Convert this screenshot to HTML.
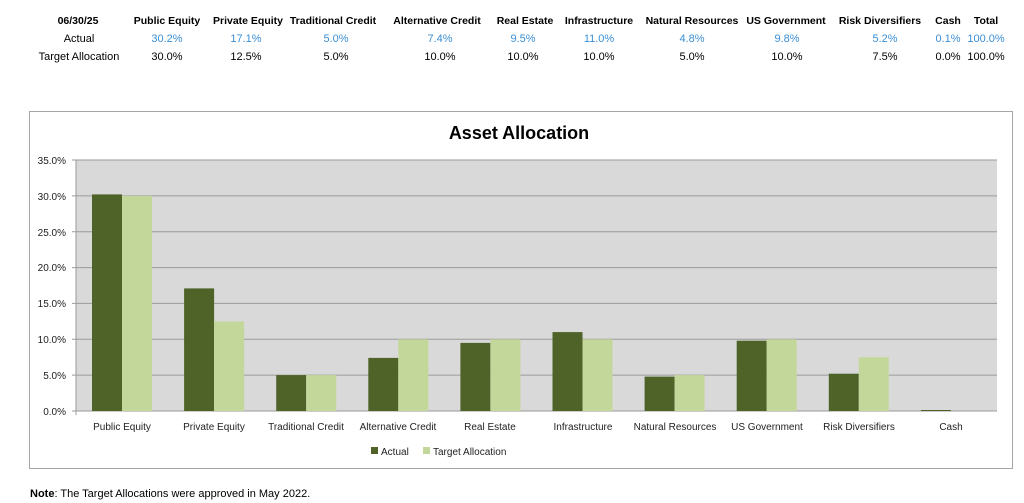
<!DOCTYPE html>
<html><head><meta charset="utf-8"><style>
body{margin:0;background:#fff;width:1024px;height:503px;overflow:hidden}
svg{display:block;font-family:"Liberation Sans",sans-serif}
</style></head><body>
<svg width="1024" height="503" viewBox="0 0 1024 503">
<g font-size="10.5" font-weight="bold" fill="#000" text-anchor="middle">
<text x="78" y="24">06/30/25</text>
<text x="167" y="24">Public Equity</text>
<text x="248" y="24">Private Equity</text>
<text x="333" y="24">Traditional Credit</text>
<text x="437" y="24">Alternative Credit</text>
<text x="525" y="24">Real Estate</text>
<text x="599" y="24">Infrastructure</text>
<text x="692" y="24">Natural Resources</text>
<text x="786" y="24">US Government</text>
<text x="880" y="24">Risk Diversifiers</text>
<text x="948" y="24">Cash</text>
<text x="986" y="24">Total</text>
</g>
<g font-size="11" text-anchor="middle">
<text x="79" y="42">Actual</text>
<text x="79" y="60">Target Allocation</text>
<g fill="#3a8fd6">
<text x="167" y="42">30.2%</text><text x="246" y="42">17.1%</text><text x="336" y="42">5.0%</text><text x="440" y="42">7.4%</text><text x="523" y="42">9.5%</text><text x="599" y="42">11.0%</text><text x="692" y="42">4.8%</text><text x="787" y="42">9.8%</text><text x="885" y="42">5.2%</text><text x="948" y="42">0.1%</text><text x="986" y="42">100.0%</text>
</g>
<g fill="#000">
<text x="167" y="60">30.0%</text><text x="246" y="60">12.5%</text><text x="336" y="60">5.0%</text><text x="440" y="60">10.0%</text><text x="523" y="60">10.0%</text><text x="599" y="60">10.0%</text><text x="692" y="60">5.0%</text><text x="787" y="60">10.0%</text><text x="885" y="60">7.5%</text><text x="948" y="60">0.0%</text><text x="986" y="60">100.0%</text>
</g>
</g>
<rect x="29.5" y="111.5" width="983" height="357" fill="#fff" stroke="#a6a6a6"/>
<text x="519" y="139" font-size="18" font-weight="bold" text-anchor="middle">Asset Allocation</text>
<rect x="76" y="160" width="921" height="251" fill="#d9d9d9"/>
<g stroke="#9a9a9a" stroke-width="1">
<line x1="72" x2="997" y1="160" y2="160"/><line x1="72" x2="997" y1="195.9" y2="195.9"/><line x1="72" x2="997" y1="231.7" y2="231.7"/><line x1="72" x2="997" y1="267.6" y2="267.6"/><line x1="72" x2="997" y1="303.4" y2="303.4"/><line x1="72" x2="997" y1="339.3" y2="339.3"/><line x1="72" x2="997" y1="375.1" y2="375.1"/><line x1="72" x2="997" y1="411" y2="411"/>
<line x1="76" x2="76" y1="160" y2="415"/>
</g>
<g font-size="10" fill="#222" text-anchor="end">
<text x="66" y="164">35.0%</text><text x="66" y="200">30.0%</text><text x="66" y="236">25.0%</text><text x="66" y="271">20.0%</text><text x="66" y="307">15.0%</text><text x="66" y="343">10.0%</text><text x="66" y="379">5.0%</text><text x="66" y="415">0.0%</text>
</g>
<g fill="#4f6228">
<rect x="92" y="194.4" width="30" height="216.6"/><rect x="184.1" y="288.4" width="30" height="122.6"/><rect x="276.2" y="375.1" width="30" height="35.9"/><rect x="368.3" y="357.9" width="30" height="53.1"/><rect x="460.4" y="342.9" width="30" height="68.1"/><rect x="552.5" y="332.1" width="30" height="78.9"/><rect x="644.6" y="376.6" width="30" height="34.4"/><rect x="736.7" y="340.7" width="30" height="70.3"/><rect x="828.8" y="373.7" width="30" height="37.3"/><rect x="920.9" y="410" width="30" height="1"/>
</g>
<g fill="#c4d79b">
<rect x="122" y="195.9" width="30" height="215.1"/><rect x="214.1" y="321.4" width="30" height="89.6"/><rect x="306.2" y="375.1" width="30" height="35.9"/><rect x="398.3" y="339.3" width="30" height="71.7"/><rect x="490.4" y="339.3" width="30" height="71.7"/><rect x="582.5" y="339.3" width="30" height="71.7"/><rect x="674.6" y="375.1" width="30" height="35.9"/><rect x="766.7" y="339.3" width="30" height="71.7"/><rect x="858.8" y="357.2" width="30" height="53.8"/>
</g>
<g font-size="10" fill="#222" text-anchor="middle">
<text x="122" y="430">Public Equity</text><text x="214" y="430">Private Equity</text><text x="306" y="430">Traditional Credit</text><text x="398" y="430">Alternative Credit</text><text x="490" y="430">Real Estate</text><text x="583" y="430">Infrastructure</text><text x="675" y="430">Natural Resources</text><text x="767" y="430">US Government</text><text x="859" y="430">Risk Diversifiers</text><text x="951" y="430">Cash</text>
</g>
<rect x="371" y="447" width="7" height="7" fill="#4f6228"/>
<text x="381" y="455" font-size="10" fill="#222">Actual</text>
<rect x="423" y="447" width="7" height="7" fill="#c4d79b"/>
<text x="433" y="455" font-size="10" fill="#222">Target Allocation</text>
<text x="30" y="497" font-size="11"><tspan font-weight="bold">Note</tspan>:  The Target Allocations were approved in May 2022.</text>
</svg>
</body></html>
